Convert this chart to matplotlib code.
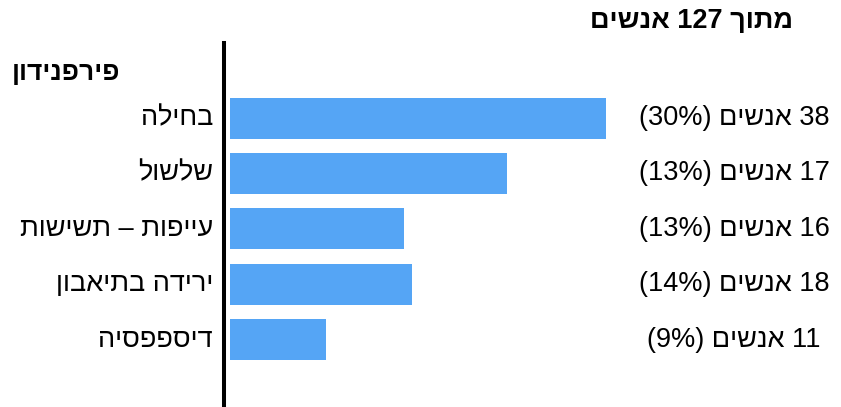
import re
import matplotlib
matplotlib.use("Agg")
import matplotlib.pyplot as plt
from matplotlib import transforms

# chart data (Hebrew, logical order)
title = "מתוך 127 אנשים"
group_name = "פירפנידון"
categories = ["בחילה", "שלשול", "עייפות – תשישות", "ירידה בתיאבון", "דיספפסיה"]
counts = [38, 17, 16, 18, 11]
percents = [30, 13, 13, 14, 9]
# bar lengths as drawn in the picture (relative units, longest = 100)
bar_lengths = [100, 73.7, 46.3, 48.4, 25.5]

plt.rcParams["font.family"] = ["Liberation Sans", "DejaVu Sans"]


def visual(s):
    """crude bidi: turn a logical RTL string into left-to-right drawing order"""
    out = s[::-1]
    out = re.sub(r"[0-9%]+", lambda m: m.group(0)[::-1], out)
    return out.translate(str.maketrans("()", ")("))


W, H = 841, 407
fig = plt.figure(figsize=(W / 100, H / 100), dpi=100)
# axes starts at the black axis line, runs to the bottom edge
ax = fig.add_axes([224 / W, 0, 400 / W, (407 - 43) / H])

pos = list(range(len(categories)))
ax.barh(pos, bar_lengths, height=0.74, left=0, color="#55A5F5")

ax.set_xlim(-1.6, 104.8)
ax.set_ylim(5.217, -1.354)
for side in ["top", "right", "bottom"]:
    ax.spines[side].set_visible(False)
ax.spines["left"].set_linewidth(2.9)
ax.spines["left"].set_color("black")
ax.set_xticks([])
ax.set_yticks([])

left_tr = transforms.blended_transform_factory(fig.transFigure, ax.transData)
for i, (cat, n, p) in enumerate(zip(categories, counts, percents)):
    ax.text(213 / W, i, visual(cat), transform=left_tr, ha="right", va="center",
            fontsize=19.5, clip_on=False)
    label = visual(f"{n} אנשים ({p}%)")
    ax.text(734 / W, i, label, transform=left_tr, ha="center", va="center",
            fontsize=19.5, clip_on=False)

fig.text(692 / W, 1 - 21 / H, visual(title), ha="center", va="center",
         fontsize=19.5, fontweight="bold")
fig.text(120 / W, 1 - 73 / H, visual(group_name), ha="right", va="center",
         fontsize=19, fontweight="bold")

fig.savefig("out.png", dpi=100)
